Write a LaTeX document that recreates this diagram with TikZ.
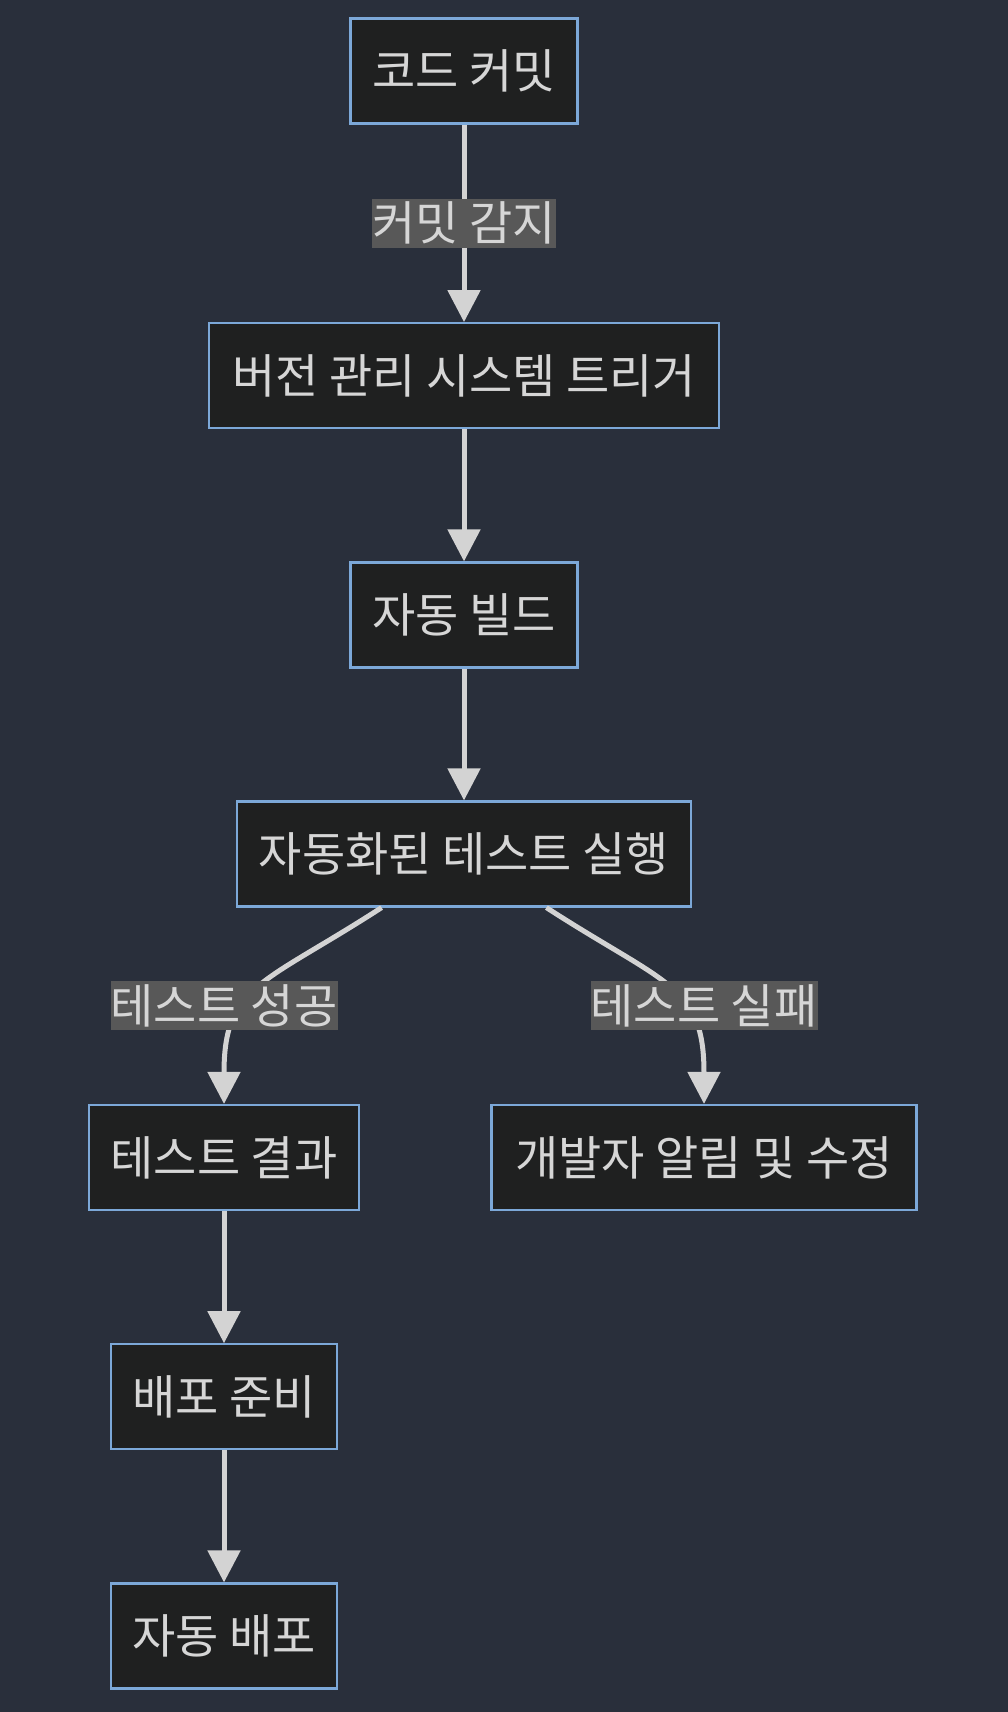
\documentclass[tikz,border=0pt]{standalone}
\usepackage{fontspec}
\setmainfont{Noto Sans CJK KR}
\usetikzlibrary{arrows.meta,calc}
\definecolor{bgc}{HTML}{292F3B}
\definecolor{nodefill}{HTML}{1F2020}
\definecolor{nodeborder}{HTML}{7CA8D8}
\definecolor{edgec}{HTML}{D3D3D3}
\definecolor{lblfill}{HTML}{585858}
\definecolor{txtc}{HTML}{D6D6D6}
\tikzset{
  box/.style={draw=nodeborder, fill=nodefill, line width=2.2pt, minimum height=105pt,
    inner sep=0pt, text=txtc, font=\fontsize{47pt}{55pt}\selectfont, anchor=center},
  edge/.style={draw=edgec, line width=5pt, -{Triangle[width=32pt,length=32pt]}},
  lbl/.style={fill=lblfill, text=txtc, inner sep=0pt, minimum height=49pt,
    font=\fontsize{47pt}{55pt}\selectfont, anchor=center}
}
\begin{document}
\begin{tikzpicture}[x=1pt,y=-1pt]
\fill[bgc] (0,0) rectangle (1008,1712);
\useasboundingbox (0,0) rectangle (1008,1712);
\node[box, minimum width=227pt] (n1) at (464,71) {코드 커밋};
\node[box, minimum width=510pt] (n2) at (464,375.7) {버전 관리 시스템 트리거};
\node[box, minimum width=227pt] (n3) at (464,615) {자동 빌드};
\node[box, minimum width=454pt] (n4) at (464,854) {자동화된 테스트 실행};
\node[box, minimum width=270pt] (n5) at (224,1157.5) {테스트 결과};
\node[box, minimum width=425pt] (n6) at (704,1157.5) {개발자 알림 및 수정};
\node[box, minimum width=226pt] (n7) at (224,1396.8) {배포 준비};
\node[box, minimum width=226pt] (n8) at (224,1636) {자동 배포};

\draw[edge] (n1) -- (n2) node[lbl, pos=0.5, minimum width=184pt] (l1) {커밋 감지};
\draw[edge] (n2) -- (n3);
\draw[edge] (n3) -- (n4);
\draw[edge] ([xshift=-82.4pt]n4.south) .. controls (262,985) and (224,985) .. (n5.north);
\draw[edge] ([xshift=82.4pt]n4.south) .. controls (666,985) and (704,985) .. (n6.north);
\node[lbl, minimum width=227pt] (l2) at (224,1005.5) {테스트 성공};
\node[lbl, minimum width=227pt] (l3) at (704,1005.5) {테스트 실패};
\draw[edge] (n5) -- (n7);
\draw[edge] (n7) -- (n8);
\end{tikzpicture}
\end{document}
